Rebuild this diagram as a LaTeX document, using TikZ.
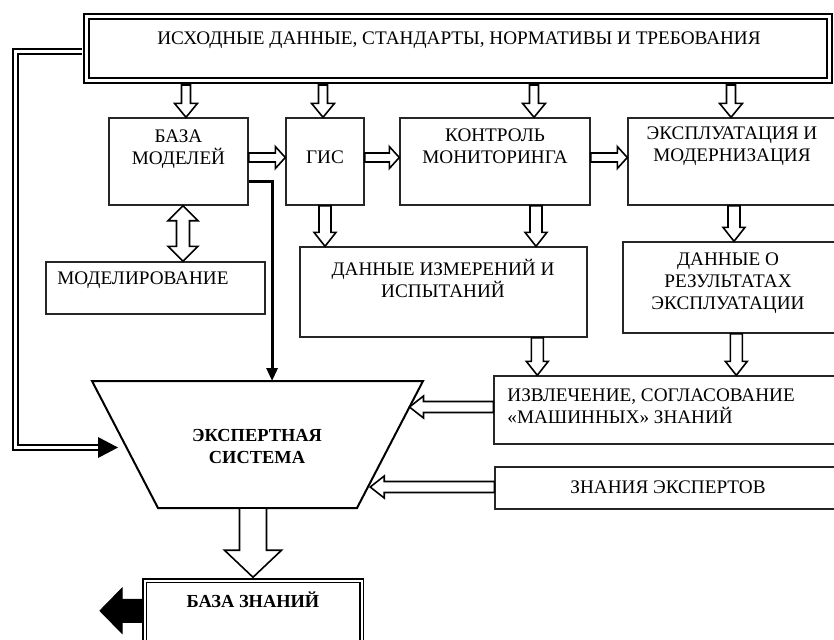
\documentclass[tikz,border=0pt]{standalone}
\usepackage{fontspec}
\setmainfont{Liberation Serif}
\usetikzlibrary{calc,fit,arrows.meta}

\tikzset{
  box/.style={draw=black!85, line width=0.7pt, inner sep=0pt},
  dbl/.style={draw, double, double distance=1.5pt, line width=1pt},
  hollow/.style={draw, fill=white, line width=0.8pt, line join=miter},
  solid/.style={draw, fill=black, line width=0.5pt, line join=miter},
  txt/.style={align=center, inner sep=0pt, font=\fontsize{9.6}{11}\selectfont},
  btxt/.style={txt, font=\fontsize{9.2}{11}\selectfont\bfseries},
}

% block arrows: [style]{tail}{tip}{shaft half}{head half}{head length}
\newcommand{\arrD}[6][hollow]{\draw[#1] let \p1=(#2), \p2=(#3) in
  (\x2-#4,\y1) -- (\x2-#4,\y2+#6) -- (\x2-#5,\y2+#6) -- (\x2,\y2)
  -- (\x2+#5,\y2+#6) -- (\x2+#4,\y2+#6) -- (\x2+#4,\y1) -- cycle;}
\newcommand{\arrR}[6][hollow]{\draw[#1] let \p1=(#2), \p2=(#3) in
  (\x1,\y1+#4) -- (\x2-#6,\y1+#4) -- (\x2-#6,\y1+#5) -- (\x2,\y1)
  -- (\x2-#6,\y1-#5) -- (\x2-#6,\y1-#4) -- (\x1,\y1-#4) -- cycle;}
\newcommand{\arrL}[6][hollow]{\draw[#1] let \p1=(#2), \p2=(#3) in
  (\x1,\y1+#4) -- (\x2+#6,\y1+#4) -- (\x2+#6,\y1+#5) -- (\x2,\y1)
  -- (\x2+#6,\y1-#5) -- (\x2+#6,\y1-#4) -- (\x1,\y1-#4) -- cycle;}
\newcommand{\arrUD}[6][hollow]{\draw[#1] let \p1=(#2), \p2=(#3) in
  (\x1,\y1) -- (\x1+#5,\y1-#6) -- (\x1+#4,\y1-#6) -- (\x1+#4,\y2+#6)
  -- (\x1+#5,\y2+#6) -- (\x1,\y2) -- (\x1-#5,\y2+#6) -- (\x1-#4,\y2+#6)
  -- (\x1-#4,\y1-#6) -- (\x1-#5,\y1-#6) -- cycle;}

\begin{document}
\begin{tikzpicture}[x=0.5pt, y=-0.5pt]
\useasboundingbox (0,0) rectangle (834,639);
\node[dbl, fit={(86.5,16.5) (829.5,80.5)}, inner sep=0pt] (src) {}; % sources
\node[txt] (src-t) at (459,40) {ИСХОДНЫЕ ДАННЫЕ, СТАНДАРТЫ, НОРМАТИВЫ И ТРЕБОВАНИЯ};
\node[box, fit={(109,118) (248,205)}] (bm) {}; % models
\node[txt] (bm-t) at (178.5,149) {БАЗА\\МОДЕЛЕЙ};
\node[box, fit={(286,118) (364,205)}] (gis) {}; % gis
\node[txt] (gis-t) at (325,157) {ГИС};
\node[box, fit={(400,118) (590,205)}] (km) {}; % monitoring
\node[txt] (km-t) at (495,146.5) {КОНТРОЛЬ\\МОНИТОРИНГА};
\node[box, fit={(628,118) (840,205)}] (em) {}; % operation
\node[txt] (em-t) at (732,146.5) {ЭКСПЛУАТАЦИЯ И\\МОДЕРНИЗАЦИЯ};
\node[box, fit={(46,262) (265,314)}] (mod) {}; % modelling
\node[txt] (mod-t) at (143,280) {МОДЕЛИРОВАНИЕ};
\node[box, fit={(300,247) (587,337)}] (dim) {}; % measurements
\node[txt] (dim-t) at (443,278.5) {ДАННЫЕ ИЗМЕРЕНИЙ И\\ИСПЫТАНИЙ};
\node[box, fit={(623,242) (840,333)}] (dr) {}; % results
\node[txt] (dr-t) at (728,283) {ДАННЫЕ О\\РЕЗУЛЬТАТАХ\\ЭКСПЛУАТАЦИИ};
\node[box, fit={(494,376) (840,444)}] (ext) {}; % extraction
\node[txt, anchor=west, align=left] (ext-t) at (507,406) {ИЗВЛЕЧЕНИЕ, СОГЛАСОВАНИЕ\\«МАШИННЫХ» ЗНАНИЙ};
\node[box, fit={(495,467) (840,509)}] (zn) {}; % experts
\node[txt] (zn-t) at (668,487) {ЗНАНИЯ ЭКСПЕРТОВ};
\draw[line width=1pt, line join=miter] (92,381) coordinate (es-tl) -- (423,381) coordinate (es-tr)
  -- (357,508) coordinate (es-br) -- (158,508) coordinate (es-bl) -- cycle; % expert system
\node[btxt] (es) at (257,446) {ЭКСПЕРТНАЯ\\СИСТЕМА};
\node[draw, double, double distance=1pt, line width=0.75pt, fit={(144.5,580.5) (361.5,660)}, inner sep=0pt] (bz) {}; % knowledge base
\node[btxt] (bz-t) at (253,600) {БАЗА ЗНАНИЙ};

\arrD{$(src.south)+(0,3.5)$}{$(bm.north)+(7.5,0)$}{2.25pt}{5.75pt}{7pt}
\arrD{$(src.south)+(0,3.5)$}{$(gis.north)+(-2,0)$}{2.25pt}{5.75pt}{7pt}
\arrD{$(src.south)+(0,3.5)$}{$(km.north)+(39,0)$}{2.25pt}{5.75pt}{7pt}
\arrD{$(src.south)+(0,3.5)$}{$(em.north)+(-3,0)$}{2.25pt}{5.75pt}{7pt}
\arrR{$(bm.east)+(0,-4)$}{gis.west}{2.25pt}{5.5pt}{5pt}
\arrR{$(gis.east)+(0,-4)$}{km.west}{2.25pt}{5.5pt}{5pt}
\arrR{$(km.east)+(0,-4)$}{em.west}{2.25pt}{5.5pt}{5pt}
\arrUD{$(bm.south)+(4.5,0)$}{mod.north}{3.25pt}{7.5pt}{7.5pt}
\arrD{gis.south}{gis.south |- dim.north}{3pt}{5.5pt}{7pt}
\arrD{km.south}{$(km.south |- dim.north)+(41,0)$}{3pt}{5.5pt}{7pt}
\arrD{em.south}{em.south |- dr.north}{3pt}{5.5pt}{7pt}
\arrD{dim.south}{$(ext.north west)+(44,0)$}{3pt}{5.5pt}{7pt}
\arrD{dr.south}{$(ext.north west)+(243,0)$}{3pt}{5.5pt}{7pt}
\arrL{$(ext.west)+(0,-3)$}{$(es-tr)!0.205!(es-br)$}{2.75pt}{5.5pt}{7pt}
\arrL{$(zn.west)+(0,-1)$}{$(es-tr)!0.8!(es-br)$}{2.75pt}{5.5pt}{7pt}
\arrD{$(es-bl)!0.48!(es-br)$}{$(bz.north)+(0,-2.5)$}{6.75pt}{14.25pt}{13.5pt}
\coordinate (bz-out) at (100,611.5);
\arrL[solid]{$(bz.north west)+(-2.5,31)$}{bz-out}{5.75pt}{11.25pt}{11pt}
\draw[line width=1.5pt, line join=miter, -{Triangle[length=6.5pt,width=5.5pt]}]
  ($(bm.east)+(0,19.5)$) -| ($(es-tl)!0.544!(es-tr)$); % models to expert system
\coordinate (fb) at (118,447.5);
\draw[dbl, line join=miter] ($(src.west)+(-3.5,3)$) -- (15,51.5) -- (15,447.5) -- ($(fb)+(-19,0)$); % feedback
\fill (fb) -- ++(-20,-10.5) -- ++(0,21) -- cycle;
\end{tikzpicture}
\end{document}
